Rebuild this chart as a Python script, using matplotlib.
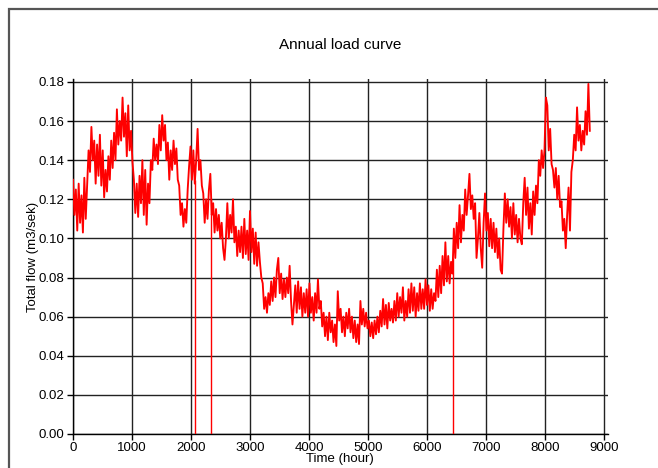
import numpy as np
import matplotlib
matplotlib.use("Agg")
import matplotlib.pyplot as plt
from matplotlib.patches import Rectangle

plt.rcParams['font.family'] = ['Liberation Sans', 'DejaVu Sans']

# Daily samples (every 24 h) of the total flow
flow = [
    0.130, 0.112, 0.125, 0.104, 0.128, 0.108, 0.122, 0.103, 0.131, 0.110,
    0.128, 0.145, 0.134, 0.157, 0.140, 0.150, 0.128, 0.148, 0.132, 0.153,
    0.127, 0.145, 0.121, 0.135, 0.124, 0.142, 0.130, 0.150, 0.136, 0.154,
    0.140, 0.166, 0.148, 0.160, 0.150, 0.172, 0.152, 0.164, 0.142, 0.168,
    0.145, 0.155, 0.139, 0.130, 0.113, 0.128, 0.111, 0.132, 0.118, 0.140,
    0.112, 0.135, 0.107, 0.128, 0.118, 0.140, 0.135, 0.151, 0.140, 0.148,
    0.138, 0.158, 0.145, 0.163, 0.150, 0.158, 0.140, 0.149, 0.130, 0.145,
    0.135, 0.150, 0.138, 0.146, 0.130, 0.127, 0.112, 0.118, 0.106, 0.115,
    0.108, 0.125, 0.137, 0.147, 0.130, 0.145, 0.128, 0.140, 0.156, 0.135,
    0.140, 0.127, 0.123, 0.108, 0.120, 0.110, 0.125, 0.133, 0.112, 0.118,
    0.103, 0.115, 0.104, 0.112, 0.100, 0.108, 0.095, 0.089, 0.100, 0.118,
    0.100, 0.112, 0.103, 0.120, 0.098, 0.106, 0.091, 0.104, 0.093, 0.106,
    0.090, 0.110, 0.092, 0.104, 0.089, 0.114, 0.093, 0.105, 0.087, 0.103,
    0.086, 0.098, 0.088, 0.080, 0.077, 0.064, 0.070, 0.062, 0.072, 0.066,
    0.078, 0.068, 0.080, 0.070, 0.084, 0.090, 0.072, 0.082, 0.069, 0.079,
    0.070, 0.080, 0.072, 0.086, 0.068, 0.056, 0.066, 0.076, 0.062, 0.078,
    0.064, 0.075, 0.060, 0.072, 0.062, 0.074, 0.060, 0.077, 0.062, 0.070,
    0.058, 0.072, 0.062, 0.079, 0.064, 0.068, 0.055, 0.062, 0.050, 0.060,
    0.048, 0.062, 0.052, 0.058, 0.047, 0.056, 0.045, 0.073, 0.058, 0.064,
    0.052, 0.060, 0.050, 0.062, 0.054, 0.064, 0.052, 0.060, 0.049, 0.058,
    0.047, 0.056, 0.046, 0.068, 0.056, 0.064, 0.055, 0.062, 0.054, 0.058,
    0.050, 0.057, 0.049, 0.058, 0.051, 0.060, 0.052, 0.063, 0.055, 0.069,
    0.056, 0.066, 0.054, 0.067, 0.058, 0.064, 0.057, 0.068, 0.058, 0.072,
    0.060, 0.070, 0.062, 0.075, 0.058, 0.068, 0.060, 0.074, 0.062, 0.077,
    0.063, 0.075, 0.060, 0.072, 0.063, 0.077, 0.064, 0.074, 0.064, 0.079,
    0.066, 0.076, 0.063, 0.074, 0.064, 0.072, 0.068, 0.084, 0.070, 0.086,
    0.072, 0.091, 0.076, 0.098, 0.078, 0.091, 0.077, 0.088, 0.082, 0.105,
    0.090, 0.108, 0.095, 0.117, 0.098, 0.112, 0.104, 0.125, 0.112, 0.122,
    0.133, 0.115, 0.122, 0.110, 0.118, 0.090, 0.100, 0.113, 0.095, 0.085,
    0.108, 0.123, 0.104, 0.113, 0.096, 0.110, 0.095, 0.108, 0.093, 0.105,
    0.090, 0.100, 0.084, 0.082, 0.105, 0.123, 0.108, 0.120, 0.106, 0.116,
    0.100, 0.118, 0.102, 0.112, 0.098, 0.110, 0.100, 0.097, 0.118, 0.131,
    0.112, 0.126, 0.105, 0.118, 0.102, 0.124, 0.112, 0.127, 0.118, 0.140,
    0.132, 0.145, 0.136, 0.145, 0.172, 0.168, 0.145, 0.156, 0.138, 0.135,
    0.126, 0.136, 0.120, 0.132, 0.116, 0.119, 0.104, 0.110, 0.095, 0.112,
    0.126, 0.104, 0.134, 0.140, 0.153, 0.145, 0.167, 0.150, 0.158, 0.145,
    0.155, 0.148, 0.165, 0.153, 0.179, 0.155,
]
step_hours = 24
hours = np.arange(len(flow)) * step_hours

# Single-hour drop-outs to zero
spike_hours = [2075, 2345, 6440]
spike_tops = [0.130, 0.120, 0.090]

x_ticks = [0, 1000, 2000, 3000, 4000, 5000, 6000, 7000, 8000, 9000]
y_ticks = [0.00, 0.02, 0.04, 0.06, 0.08, 0.10, 0.12, 0.14, 0.16, 0.18]

W, H = 658, 468
fig = plt.figure(figsize=(W / 100, H / 100), dpi=100)
left, right, bottom, top = 73, 607.5, 434, 79
ax = fig.add_axes([left / W, 1 - bottom / H, (right - left) / W, (bottom - top) / H])

# outer frame
fig.patches.append(Rectangle((9 / W, -0.1), 1.2, 1.1 - 9 / H, transform=fig.transFigure,
                             fill=False, edgecolor='#555555', linewidth=1.6))

ax.plot(hours, flow, color='#ff0000', linewidth=1.35, zorder=3)
ax.vlines(spike_hours, 0, spike_tops, color='#ff0000', linewidth=1.0, zorder=3)

ax.set_xlim(0, 9060)
ax.set_ylim(0, 0.1815)
ax.set_xticks(x_ticks)
ax.set_yticks(y_ticks)
ax.set_yticklabels([f"{v:.2f}" for v in y_ticks])
ax.grid(True, color='#222222', linewidth=1.0, zorder=1)
ax.set_axisbelow(True)
for s in ['top', 'right']:
    ax.spines[s].set_visible(False)
for s in ['left', 'bottom']:
    ax.spines[s].set_color('black')
    ax.spines[s].set_linewidth(1.0)
ax.tick_params(direction='out', length=4, width=1, labelsize=9.5, colors='black', pad=2)

ax.set_xlabel('Time (hour)', fontsize=9.5, labelpad=-1)
ax.set_ylabel('Total flow (m3/sek)', fontsize=9.5)
ax.yaxis.set_label_coords((39 - left) / (right - left), 0.5)
fig.text((left + right) / 2 / W, 1 - 45 / H, 'Annual load curve', ha='center', va='center', fontsize=11)

fig.savefig('out.png', dpi=100)
